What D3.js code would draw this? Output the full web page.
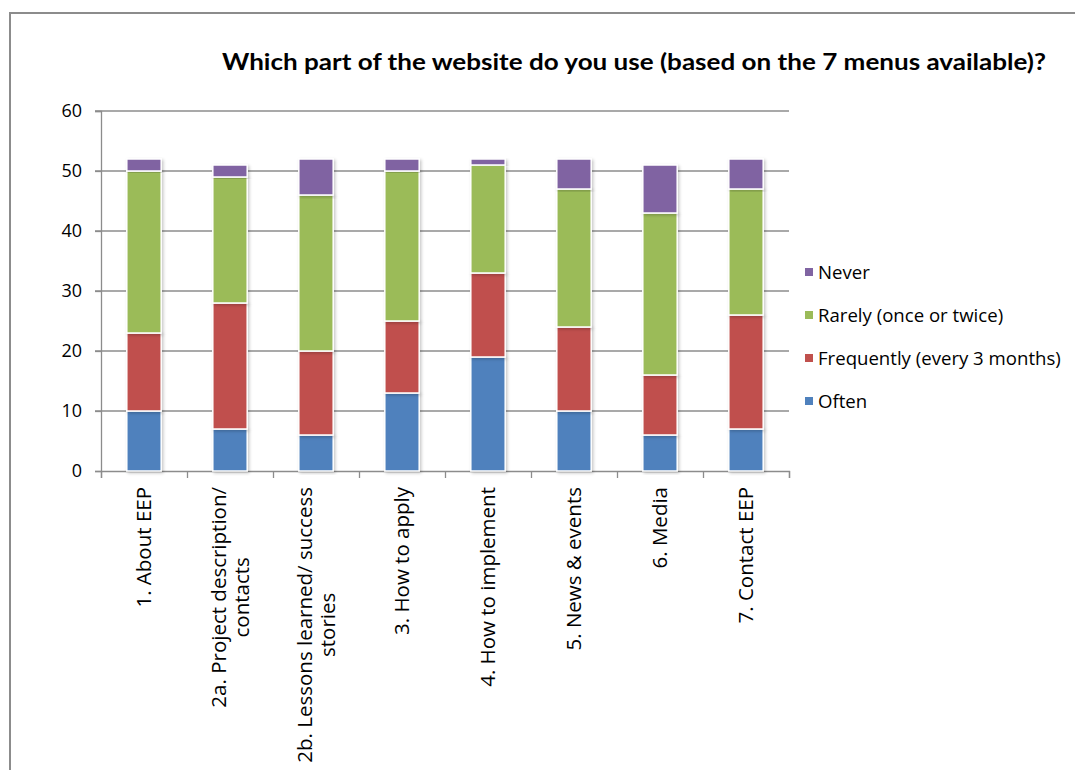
<!DOCTYPE html>
<html>
<head>
<meta charset="utf-8">
<script src="https://cdn.jsdelivr.net/npm/d3@7/dist/d3.min.js"></script>
<style>
  html, body { margin: 0; padding: 0; background: #fff; }
  svg { display: block; }
  text { font-family: "Open Sans", "Liberation Sans", sans-serif; fill: #000; }
</style>
</head>
<body>
<svg id="chart" width="1075" height="770"></svg>
<script>
// Menu sections of the website (x-axis categories, each line of a label as an entry)
const categories = [
  ["1. About EEP"],
  ["2a. Project description/", "contacts"],
  ["2b. Lessons learned/ success", "stories"],
  ["3. How to apply"],
  ["4. How to implement"],
  ["5. News & events"],
  ["6. Media"],
  ["7. Contact EEP"]
];

// Number of respondents per answer, stacked bottom to top
const often      = [10,  7,  6, 13, 19, 10,  6,  7];
const frequently = [13, 21, 14, 12, 14, 14, 10, 19];
const rarely     = [27, 21, 26, 25, 18, 23, 27, 21];
const never      = [ 2,  2,  6,  2,  1,  5,  8,  5];

const seriesNames  = ["Often", "Frequently (every 3 months)", "Rarely (once or twice)", "Never"];
const seriesColors = ["#4f81bd", "#c0504d", "#9bbb59", "#8064a2"];
const yTicks = [0, 10, 20, 30, 40, 50, 60];

const title = "Which part of the website do you use (based on the 7 menus available)?";

const svg = d3.select("#chart");

// outer chart frame
svg.append("path")
  .attr("d", "M10,780 L10,13 L1080,13")
  .attr("fill", "none")
  .attr("stroke", "#8c8c8c")
  .attr("stroke-width", 2);

const plot = { left: 101, right: 789, top: 111, bottom: 471 };

const x = d3.scaleBand()
  .domain(d3.range(categories.length))
  .range([plot.left, plot.right])
  .paddingInner(0.6)
  .paddingOuter(0.3);

const xBoundary = d3.scaleLinear()
  .domain([0, categories.length])
  .range([plot.left, plot.right]);

const y = d3.scaleLinear().domain([0, 60]).range([plot.bottom, plot.top]);

// soft shadow under bars
const defs = svg.append("defs");
const f = defs.append("filter").attr("id", "shadow")
  .attr("x", "-30%").attr("y", "-10%").attr("width", "160%").attr("height", "120%");
f.append("feDropShadow").attr("dx", 1.5).attr("dy", 1.5).attr("stdDeviation", 1.6)
  .attr("flood-color", "#000").attr("flood-opacity", 0.22);

// horizontal gridlines
svg.append("g")
  .selectAll("line")
  .data(yTicks.filter(d => d > 0))
  .join("line")
  .attr("x1", plot.left - 6).attr("x2", plot.right)
  .attr("y1", d => y(d)).attr("y2", d => y(d))
  .attr("stroke", "#8c8c8c").attr("stroke-width", 1.3);

// y axis
const yAxis = svg.append("g")
  .attr("transform", `translate(${plot.left},0)`)
  .call(d3.axisLeft(y).tickValues(yTicks).tickSize(6).tickPadding(13));
yAxis.select(".domain").attr("stroke", "#8c8c8c").attr("stroke-width", 1.3);
yAxis.selectAll(".tick line").attr("stroke", "#8c8c8c").attr("stroke-width", 1.3);
yAxis.selectAll(".tick text")
  .style("font-family", "'Open Sans', sans-serif")
  .style("font-size", "18px")
  .attr("fill", "#000");

// x axis baseline and boundary ticks
const xAxis = svg.append("g")
  .attr("transform", `translate(0,${plot.bottom})`)
  .call(d3.axisBottom(xBoundary).tickValues(d3.range(categories.length + 1)).tickSize(7).tickFormat(""));
xAxis.select(".domain").attr("stroke", "#8c8c8c").attr("stroke-width", 1.3);
xAxis.selectAll(".tick line").attr("stroke", "#8c8c8c").attr("stroke-width", 1.3);

// stacked bars
const rows = categories.map((c, i) => ({
  i,
  Often: often[i],
  "Frequently (every 3 months)": frequently[i],
  "Rarely (once or twice)": rarely[i],
  Never: never[i]
}));
const stacked = d3.stack().keys(seriesNames)(rows);

svg.append("g")
  .selectAll("g")
  .data(stacked)
  .join("g")
  .attr("fill", (d, k) => seriesColors[k])
  .selectAll("rect")
  .data(d => d)
  .join("rect")
  .attr("x", d => x(d.data.i))
  .attr("width", x.bandwidth())
  .attr("y", d => y(d[1]))
  .attr("height", d => y(d[0]) - y(d[1]))
  .attr("stroke", "#fff")
  .attr("stroke-width", 1.5)
  .attr("filter", "url(#shadow)");

// rotated category labels
const lineGap = 23;
const labels = svg.append("g")
  .selectAll("text")
  .data(categories)
  .join("text")
  .attr("transform", (d, i) => `translate(${x(i) + x.bandwidth() / 2},${plot.bottom + 16}) rotate(-90)`)
  .attr("text-anchor", "end")
  .style("font-size", "20.5px");
labels.each(function(lines) {
  const t = d3.select(this);
  const n = lines.length;
  if (n === 1) {
    t.append("tspan").attr("x", 0).attr("dy", "0.35em").text(lines[0]);
  } else {
    // multi-line labels are centred on the widest line
    const tmp = t.append("tspan").text(lines[0]);
    const w = this.getComputedTextLength();
    tmp.remove();
    t.attr("text-anchor", "middle");
    lines.forEach((ln, k) => {
      t.append("tspan")
        .attr("x", -w / 2)
        .attr("y", (k - (n - 1) / 2) * lineGap)
        .attr("dy", "0.35em")
        .text(ln);
    });
  }
});

// legend (top to bottom: Never, Rarely, Frequently, Often)
const legendOrder = [3, 2, 1, 0];
const legend = svg.append("g")
  .selectAll("g")
  .data(legendOrder)
  .join("g")
  .attr("transform", (d, k) => `translate(805,${272 + k * 43})`);
legend.append("rect")
  .attr("x", 0).attr("y", -4).attr("width", 8).attr("height", 8)
  .attr("fill", d => seriesColors[d]);
legend.append("text")
  .attr("x", 13).attr("y", 0).attr("dy", "0.35em")
  .style("font-size", "18.6px")
  .text(d => seriesNames[d]);

// title
svg.append("text")
  .attr("x", 634).attr("y", 62)
  .attr("text-anchor", "middle")
  .attr("dy", "0.35em")
  .style("font-family", "Lato, 'Open Sans', sans-serif")
  .style("font-size", "22px")
  .style("font-weight", "bold")
  .attr("textLength", 824)
  .attr("lengthAdjust", "spacingAndGlyphs")
  .text(title);
</script>
</body>
</html>
